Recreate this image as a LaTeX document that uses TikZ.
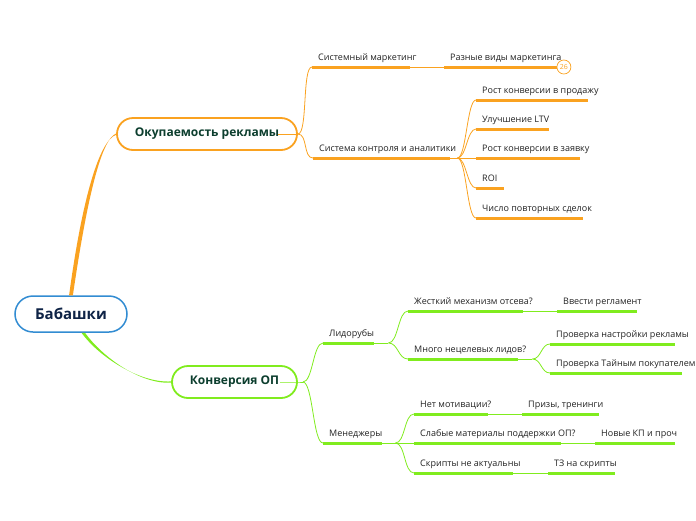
\documentclass[tikz,border=0pt]{standalone}
\usepackage{fontspec}
\setmainfont{Open Sans}
\definecolor{org}{RGB}{250,162,32}
\definecolor{grn}{RGB}{128,236,30}
\definecolor{blu}{RGB}{50,140,210}
\definecolor{txt}{RGB}{34,34,34}
\definecolor{dgr}{RGB}{12,62,46}
\definecolor{navy}{RGB}{14,35,70}
\newcommand\tb[2]{\makebox[#1pt][l]{#2}}
\begin{document}
\begin{tikzpicture}[x=1pt,y=-1pt,
 lbl/.style={anchor=south west, inner xsep=6pt, inner ysep=0pt, text height=7.5pt, text depth=6.5pt, font=\fontsize{9}{10}\selectfont, text=txt},
 ulO/.style={draw=org, line width=3pt},
 ulG/.style={draw=grn, line width=3pt},
 thinO/.style={draw=org, line width=0.8pt},
 thinG/.style={draw=grn, line width=0.8pt},
 main/.style={rounded corners=16pt, minimum height=32pt, line width=1.8pt, fill=white, font=\bfseries\fontsize{12}{14}\selectfont, text=dgr},
]
\useasboundingbox (0,0) rectangle (696,520);

% main nodes
\node[draw=blu, line width=1.5pt, fill=white, rounded corners=18pt, minimum width=112pt, minimum height=36pt, font=\bfseries\fontsize{15}{17}\selectfont, text=navy] (root) at (71,314) {Бабашки};
\node[main, draw=org, minimum width=180pt] (ok) at (207,134) {Окупаемость рекламы};
\node[main, draw=grn, minimum width=125pt] (kv) at (234.5,382) {Конверсия ОП};

% orange branch labels
\node[lbl] (sm) at (312,67) {\tb{86}{Системный маркетинг}};
\node[lbl] (rv) at (444,67) {\tb{101}{Разные виды маркетинга}};
\node[lbl] (sk) at (313,158) {\tb{125}{Система контроля и аналитики}};
\node[lbl] (c1) at (476,100) {\tb{100}{Рост конверсии в продажу}};
\node[lbl] (c2) at (476,129) {\tb{61}{Улучшение LTV}};
\node[lbl] (c3) at (476,158) {\tb{92}{Рост конверсии в заявку}};
\node[lbl] (c4) at (476,188) {\tb{16}{ROI}};
\node[lbl] (c5) at (476,218) {\tb{95}{Число повторных сделок}};

% green branch labels
\node[lbl] (ld) at (323,343) {\tb{39}{Лидорубы}};
\node[lbl] (lj) at (408,311) {\tb{103}{Жесткий механизм отсева?}};
\node[lbl] (lr) at (557,311) {\tb{68}{Ввести регламент}};
\node[lbl] (lm) at (408,359) {\tb{98}{Много нецелевых лидов?}};
\node[lbl] (p1) at (550,344) {\tb{113}{Проверка настройки рекламы}};
\node[lbl] (p2) at (550,373) {\tb{120}{Проверка Тайным покупателем}};
\node[lbl] (mg) at (323,443) {\tb{47}{Менеджеры}};
\node[lbl] (m1) at (414,414) {\tb{62}{Нет мотивации?}};
\node[lbl] (m1a) at (522,414) {\tb{65}{Призы, тренинги}};
\node[lbl] (m2) at (414,443) {\tb{135}{Слабые материалы поддержки ОП?}};
\node[lbl] (m2a) at (595,443) {\tb{68}{Новые КП и проч}};
\node[lbl] (m3) at (414,473) {\tb{87}{Скрипты не актуальны}};
\node[lbl] (m3a) at (548,473) {\tb{55}{ТЗ на скрипты}};

% root connectors (tapered)
\fill[org] ([xshift=-1.9pt]root.north) .. controls +(13,-96) and +(-17,6) .. ([yshift=-0.8pt]ok.west)
  -- ([yshift=0.5pt]ok.west) .. controls +(-15,6) and +(14,-96) .. ([xshift=1.9pt]root.north) -- cycle;
\fill[grn] ([xshift=10.5pt]root.south) .. controls +(18,25) and +(-30,2) .. ([yshift=0.6pt]kv.west)
  -- ([yshift=-0.6pt]kv.west) .. controls +(-30,2) and +(18,25) .. ([xshift=14pt]root.south) -- cycle;

% orange connectors
\draw[thinO] ([xshift=-20pt]ok.east) -- (ok.east) coordinate (okj);
\draw[thinO] (okj) .. controls +(10,0) and +(-10,0) .. (sm.south west);
\draw[thinO] (okj) .. controls +(10,0) and +(-10,0) .. (sk.south west);
\draw[thinO] (sm.south east) -- (rv.south west);
\draw[thinO] (sk.south east) -- ++(7,0) coordinate (skj);
\foreach \c in {c1,c2,c3,c4,c5}
  \draw[thinO] (skj) .. controls +(9,0) and +(-9,0) .. (\c.south west);
\foreach \n in {sm,rv,sk,c1,c2,c3,c4,c5}
  \draw[ulO] (\n.south west) -- (\n.south east);
\node[circle, draw=org, line width=0.7pt, fill=white, inner sep=0pt, minimum size=14pt, font=\fontsize{7}{7}\selectfont, text=org] (b26) at ([xshift=6.5pt]rv.south east) {26};

% green connectors
\draw[thinG] ([xshift=-18pt]kv.east) -- (kv.east) -- ++(5,0) coordinate (kvj);
\draw[thinG] (kvj) .. controls +(10,0) and +(-10,0) .. (ld.south west);
\draw[thinG] (kvj) .. controls +(10,0) and +(-10,0) .. (mg.south west);
\draw[thinG] (ld.south east) -- ++(14,0) coordinate (ldj);
\draw[thinG] (ldj) .. controls +(10,0) and +(-10,0) .. (lj.south west);
\draw[thinG] (ldj) .. controls +(10,0) and +(-10,0) .. (lm.south west);
\draw[thinG] (lj.south east) -- (lr.south west);
\draw[thinG] (lm.south east) -- ++(14,0) coordinate (lmj);
\draw[thinG] (lmj) .. controls +(9,0) and +(-9,0) .. (p1.south west);
\draw[thinG] (lmj) .. controls +(9,0) and +(-9,0) .. (p2.south west);
\draw[thinG] (mg.south east) -- ++(13,0) coordinate (mgj);
\draw[thinG] (mgj) .. controls +(10,0) and +(-10,0) .. (m1.south west);
\draw[thinG] (mgj) -- (m2.south west);
\draw[thinG] (mgj) .. controls +(10,0) and +(-10,0) .. (m3.south west);
\draw[thinG] (m1.south east) -- (m1a.south west);
\draw[thinG] (m2.south east) -- (m2a.south west);
\draw[thinG] (m3.south east) -- (m3a.south west);
\foreach \n in {ld,lj,lr,lm,p1,p2,mg,m1,m1a,m2,m2a,m3,m3a}
  \draw[ulG] (\n.south west) -- (\n.south east);
\end{tikzpicture}
\end{document}
